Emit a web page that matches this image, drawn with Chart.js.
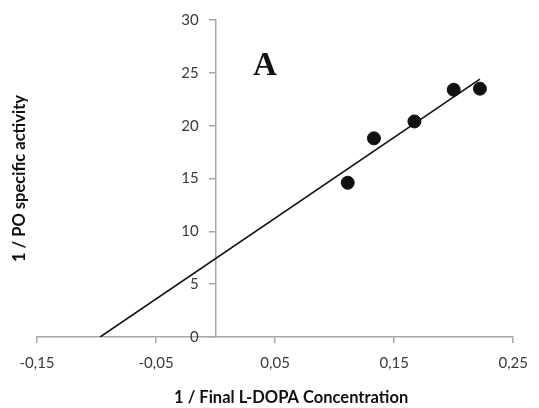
<!DOCTYPE html>
<html>
<head>
<meta charset="utf-8">
<script src="https://cdn.jsdelivr.net/npm/chart.js@4.4.1/dist/chart.umd.min.js"></script>
<style>
  html, body { margin: 0; padding: 0; background: #fff; }
  #wrap { width: 539px; height: 408px; }
</style>
</head>
<body>
<div id="wrap"><canvas id="c" width="539" height="408"></canvas></div>
<script>
// Data
const pointX = [0.111, 0.133, 0.167, 0.200, 0.222];
const pointY = [14.6, 18.8, 20.4, 23.4, 23.5];
const trendX = [-0.097, 0.222];
const trendY = [0, 24.4];
const xTicks = [-0.15, -0.05, 0.05, 0.15, 0.25];
const yTicks = [0, 5, 10, 15, 20, 25, 30];
const xTitle = '1 / Final L-DOPA Concentration';
const yTitle = '1 / PO specific activity';
const panelLabel = 'A';

const axisGray = '#a6a6a6';
const tickFont = { family: 'Lato', size: 15 };
const titleFont = { family: 'Lato', size: 16.5, weight: 'bold' };
const yLabelGap = 17;   // distance from y axis line to right edge of its labels
const xTitleShift = 16; // x-axis title sits slightly right of the plot centre

// y axis sits at x = 0 (position object); shift its labels left of the tick marks
const yLabelShift = {
  id: 'yLabelShift',
  beforeDraw(chart) {
    const scale = chart.scales.y;
    const items = scale.getLabelItems(chart.chartArea);
    items.forEach(it => {
      if (!it._shifted) {
        it.options.translation[0] -= yLabelGap;
        it._shifted = true;
      }
    });
  }
};

const panelPlugin = {
  id: 'panelLabel',
  afterDraw(chart) {
    const ctx = chart.ctx;
    ctx.save();
    ctx.font = 'bold 33px "Liberation Serif"';
    ctx.fillStyle = '#111';
    ctx.textAlign = 'center';
    ctx.textBaseline = 'alphabetic';
    ctx.fillText(panelLabel, 265, 75);
    ctx.restore();
  }
};

new Chart(document.getElementById('c'), {
  type: 'scatter',
  data: {
    datasets: [
      {
        label: 'points',
        data: pointX.map((x, i) => ({ x: x, y: pointY[i] })),
        backgroundColor: '#111',
        borderColor: '#111',
        pointRadius: 6.5,
        pointHoverRadius: 6.5,
        order: 1
      },
      {
        label: 'trend',
        type: 'line',
        data: trendX.map((x, i) => ({ x: x, y: trendY[i] })),
        borderColor: '#111',
        borderWidth: 1.6,
        pointRadius: 0,
        fill: false,
        order: 2
      }
    ]
  },
  options: {
    responsive: false,
    animation: false,
    devicePixelRatio: 1,
    layout: { padding: { left: 0, right: 16, top: 20, bottom: 0 } },
    plugins: { legend: { display: false }, tooltip: { enabled: false } },
    scales: {
      x: {
        type: 'linear',
        position: 'bottom',
        min: -0.15,
        max: 0.25,
        afterBuildTicks: (axis) => { axis.ticks = xTicks.map(v => ({ value: v })); },
        afterFit: (axis) => {
          axis.height = 71;
          if (!axis._titlePatched) {
            const orig = axis.drawTitle;
            axis.drawTitle = function () {
              const ctx = this.ctx;
              ctx.save();
              ctx.translate(xTitleShift, 0);
              orig.call(this);
              ctx.restore();
            };
            axis._titlePatched = true;
          }
        },
        ticks: {
          font: tickFont,
          color: '#3a3a3a',
          padding: 11,
          maxRotation: 0,
          callback: (v) => v.toFixed(2).replace('.', ',')
        },
        grid: { display: true, drawOnChartArea: false, drawTicks: true, tickLength: 6, color: axisGray, lineWidth: 1.5 },
        border: { display: true, color: axisGray, width: 1.5 },
        title: { display: true, text: xTitle, font: titleFont, color: '#111', padding: { top: 0, bottom: 0 } }
      },
      y: {
        type: 'linear',
        position: { x: 0 },
        min: 0,
        max: 30,
        afterBuildTicks: (axis) => { axis.ticks = yTicks.map(v => ({ value: v })); },
        ticks: { font: tickFont, color: '#3a3a3a', padding: 10, callback: (v) => String(v) },
        grid: { display: true, drawOnChartArea: false, drawTicks: true, tickLength: 6, color: axisGray, lineWidth: 1.5 },
        border: { display: true, color: axisGray, width: 1.5 }
      },
      yt: {
        type: 'linear',
        position: 'left',
        display: true,
        afterFit: (axis) => { axis.width = 37; },
        ticks: { display: false },
        grid: { display: false },
        border: { display: false },
        title: { display: true, text: yTitle, font: titleFont, color: '#111', padding: { top: 10, bottom: 0 } }
      }
    }
  },
  plugins: [yLabelShift, panelPlugin]
});
</script>
</body>
</html>
